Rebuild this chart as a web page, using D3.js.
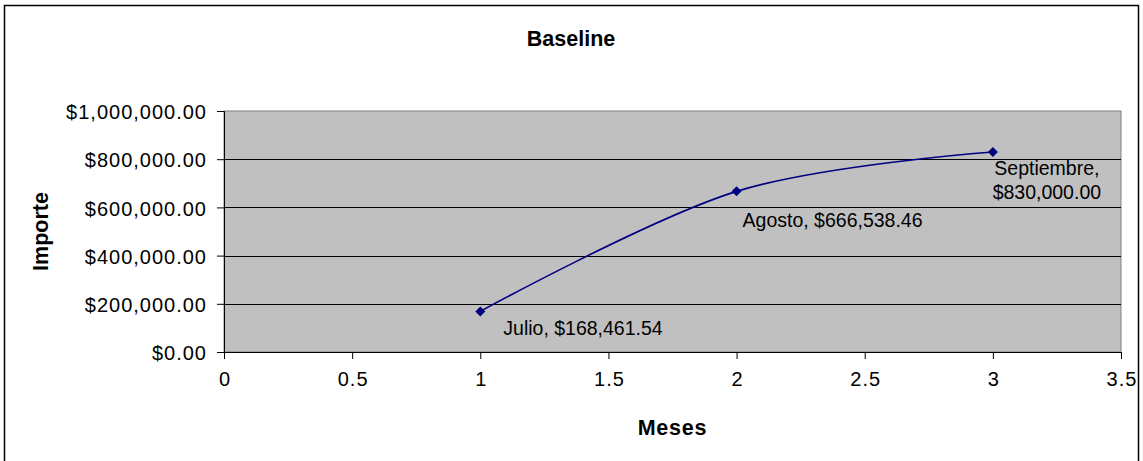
<!DOCTYPE html>
<html>
<head>
<meta charset="utf-8">
<script src="https://cdn.jsdelivr.net/npm/d3@7"></script>
<style>
  html, body { margin: 0; padding: 0; background: #ffffff; }
  svg { display: block; font-family: "Liberation Sans", Arial, sans-serif; }
</style>
</head>
<body>
<svg id="chart" width="1143" height="461"></svg>
<script>
// ---- data ----
const months = ["Julio", "Agosto", "Septiembre"];
const monthIndex = [1, 2, 3];
const importe = [168461.54, 666538.46, 830000.00];
const xTicks = [0, 0.5, 1, 1.5, 2, 2.5, 3, 3.5];
const yTicks = [0, 200000, 400000, 600000, 800000, 1000000];
const chartTitle = "Baseline";
const xTitle = "Meses";
const yTitle = "Importe";

// ---- layout ----
const W = 1143, H = 461;
const plot = { left: 224, right: 1121, top: 111, bottom: 352 };
const svg = d3.select("#chart");

const x = d3.scaleLinear().domain([0, 3.5]).range([plot.left, plot.right]);
const y = d3.scaleLinear().domain([0, 1000000]).range([plot.bottom, plot.top]);

const money = v => "$" + d3.format(",.2f")(v);

// outer chart border
svg.append("rect")
  .attr("x", 4.5).attr("y", 5.5)
  .attr("width", 1134).attr("height", 480)
  .attr("fill", "#ffffff").attr("stroke", "#000000").attr("stroke-width", 1.5);

// plot area
svg.append("rect")
  .attr("x", plot.left).attr("y", plot.top)
  .attr("width", plot.right - plot.left).attr("height", plot.bottom - plot.top)
  .attr("fill", "#c0c0c0").attr("stroke", "#808080").attr("stroke-width", 1);

// gridlines
svg.append("g").selectAll("line")
  .data(yTicks.filter(t => t > 0 && t < 1000000))
  .join("line")
  .attr("x1", plot.left).attr("x2", plot.right)
  .attr("y1", d => Math.round(y(d)) + 0.5).attr("y2", d => Math.round(y(d)) + 0.5)
  .attr("stroke", "#000000").attr("stroke-width", 1);

// y axis
const yAxis = svg.append("g")
  .attr("transform", `translate(${plot.left},0)`)
  .call(d3.axisLeft(y).tickValues(yTicks).tickFormat(money).tickSize(7).tickPadding(10));
yAxis.select(".domain").attr("stroke", "#000");
yAxis.selectAll(".tick line").attr("stroke", "#000");
yAxis.selectAll("text").attr("font-size", 20).attr("fill", "#000")
  .attr("letter-spacing", "1px")
  .attr("font-family", "'Liberation Sans', Arial, sans-serif").attr("dy", "0.38em");

// x axis
const xAxis = svg.append("g")
  .attr("transform", `translate(0,${plot.bottom})`)
  .call(d3.axisBottom(x).tickValues(xTicks).tickFormat(d => String(d)).tickSize(7).tickPadding(13));
xAxis.select(".domain").attr("stroke", "#000");
xAxis.selectAll(".tick line").attr("stroke", "#000");
xAxis.selectAll("text").attr("font-size", 20).attr("fill", "#000")
  .attr("letter-spacing", "1px").attr("dx", "0.5")
  .attr("font-family", "'Liberation Sans', Arial, sans-serif");

// series line
const pts = monthIndex.map((m, i) => ({ x: m, y: importe[i], name: months[i] }));
svg.append("path")
  .datum(pts)
  .attr("fill", "none")
  .attr("stroke", "#000080")
  .attr("stroke-width", 1.6)
  .attr("d", d3.line().x(d => x(d.x)).y(d => y(d.y)).curve(d3.curveCatmullRom.alpha(0)));

// markers (diamonds)
svg.append("g").selectAll("path")
  .data(pts)
  .join("path")
  .attr("transform", d => `translate(${x(d.x)},${y(d.y)})`)
  .attr("d", "M0,-5L5,0L0,5L-5,0Z")
  .attr("fill", "#000080");

// data labels
const labelOffsets = [
  { dx: 23, dy: 24, anchor: "start", lines: 1 },
  { dx: 6, dy: 36, anchor: "start", lines: 1 },
  { dx: 54, dy: 23, anchor: "middle", lines: 2 }
];
const labels = svg.append("g").attr("font-size", 19.5).attr("fill", "#000");
pts.forEach((d, i) => {
  const o = labelOffsets[i];
  const t = labels.append("text")
    .attr("x", x(d.x) + o.dx)
    .attr("y", y(d.y) + o.dy)
    .attr("text-anchor", o.anchor);
  if (o.lines === 1) {
    t.text(d.name + ", " + money(d.y));
  } else {
    t.append("tspan").attr("x", x(d.x) + o.dx).text(d.name + ",");
    t.append("tspan").attr("x", x(d.x) + o.dx).attr("dy", 24).text(money(d.y));
  }
});

// titles
svg.append("text")
  .attr("x", (4 + 1138) / 2).attr("y", 45.5)
  .attr("text-anchor", "middle").attr("font-weight", "bold").attr("font-size", 21.5)
  .text(chartTitle);

svg.append("text")
  .attr("x", (plot.left + plot.right) / 2).attr("y", 435)
  .attr("text-anchor", "middle").attr("font-weight", "bold").attr("font-size", 21.5)
  .attr("letter-spacing", "0.8px")
  .text(xTitle);

svg.append("text")
  .attr("transform", `translate(48,${(plot.top + plot.bottom) / 2}) rotate(-90)`)
  .attr("text-anchor", "middle").attr("font-weight", "bold").attr("font-size", 21.5)
  .text(yTitle);
</script>
</body>
</html>
